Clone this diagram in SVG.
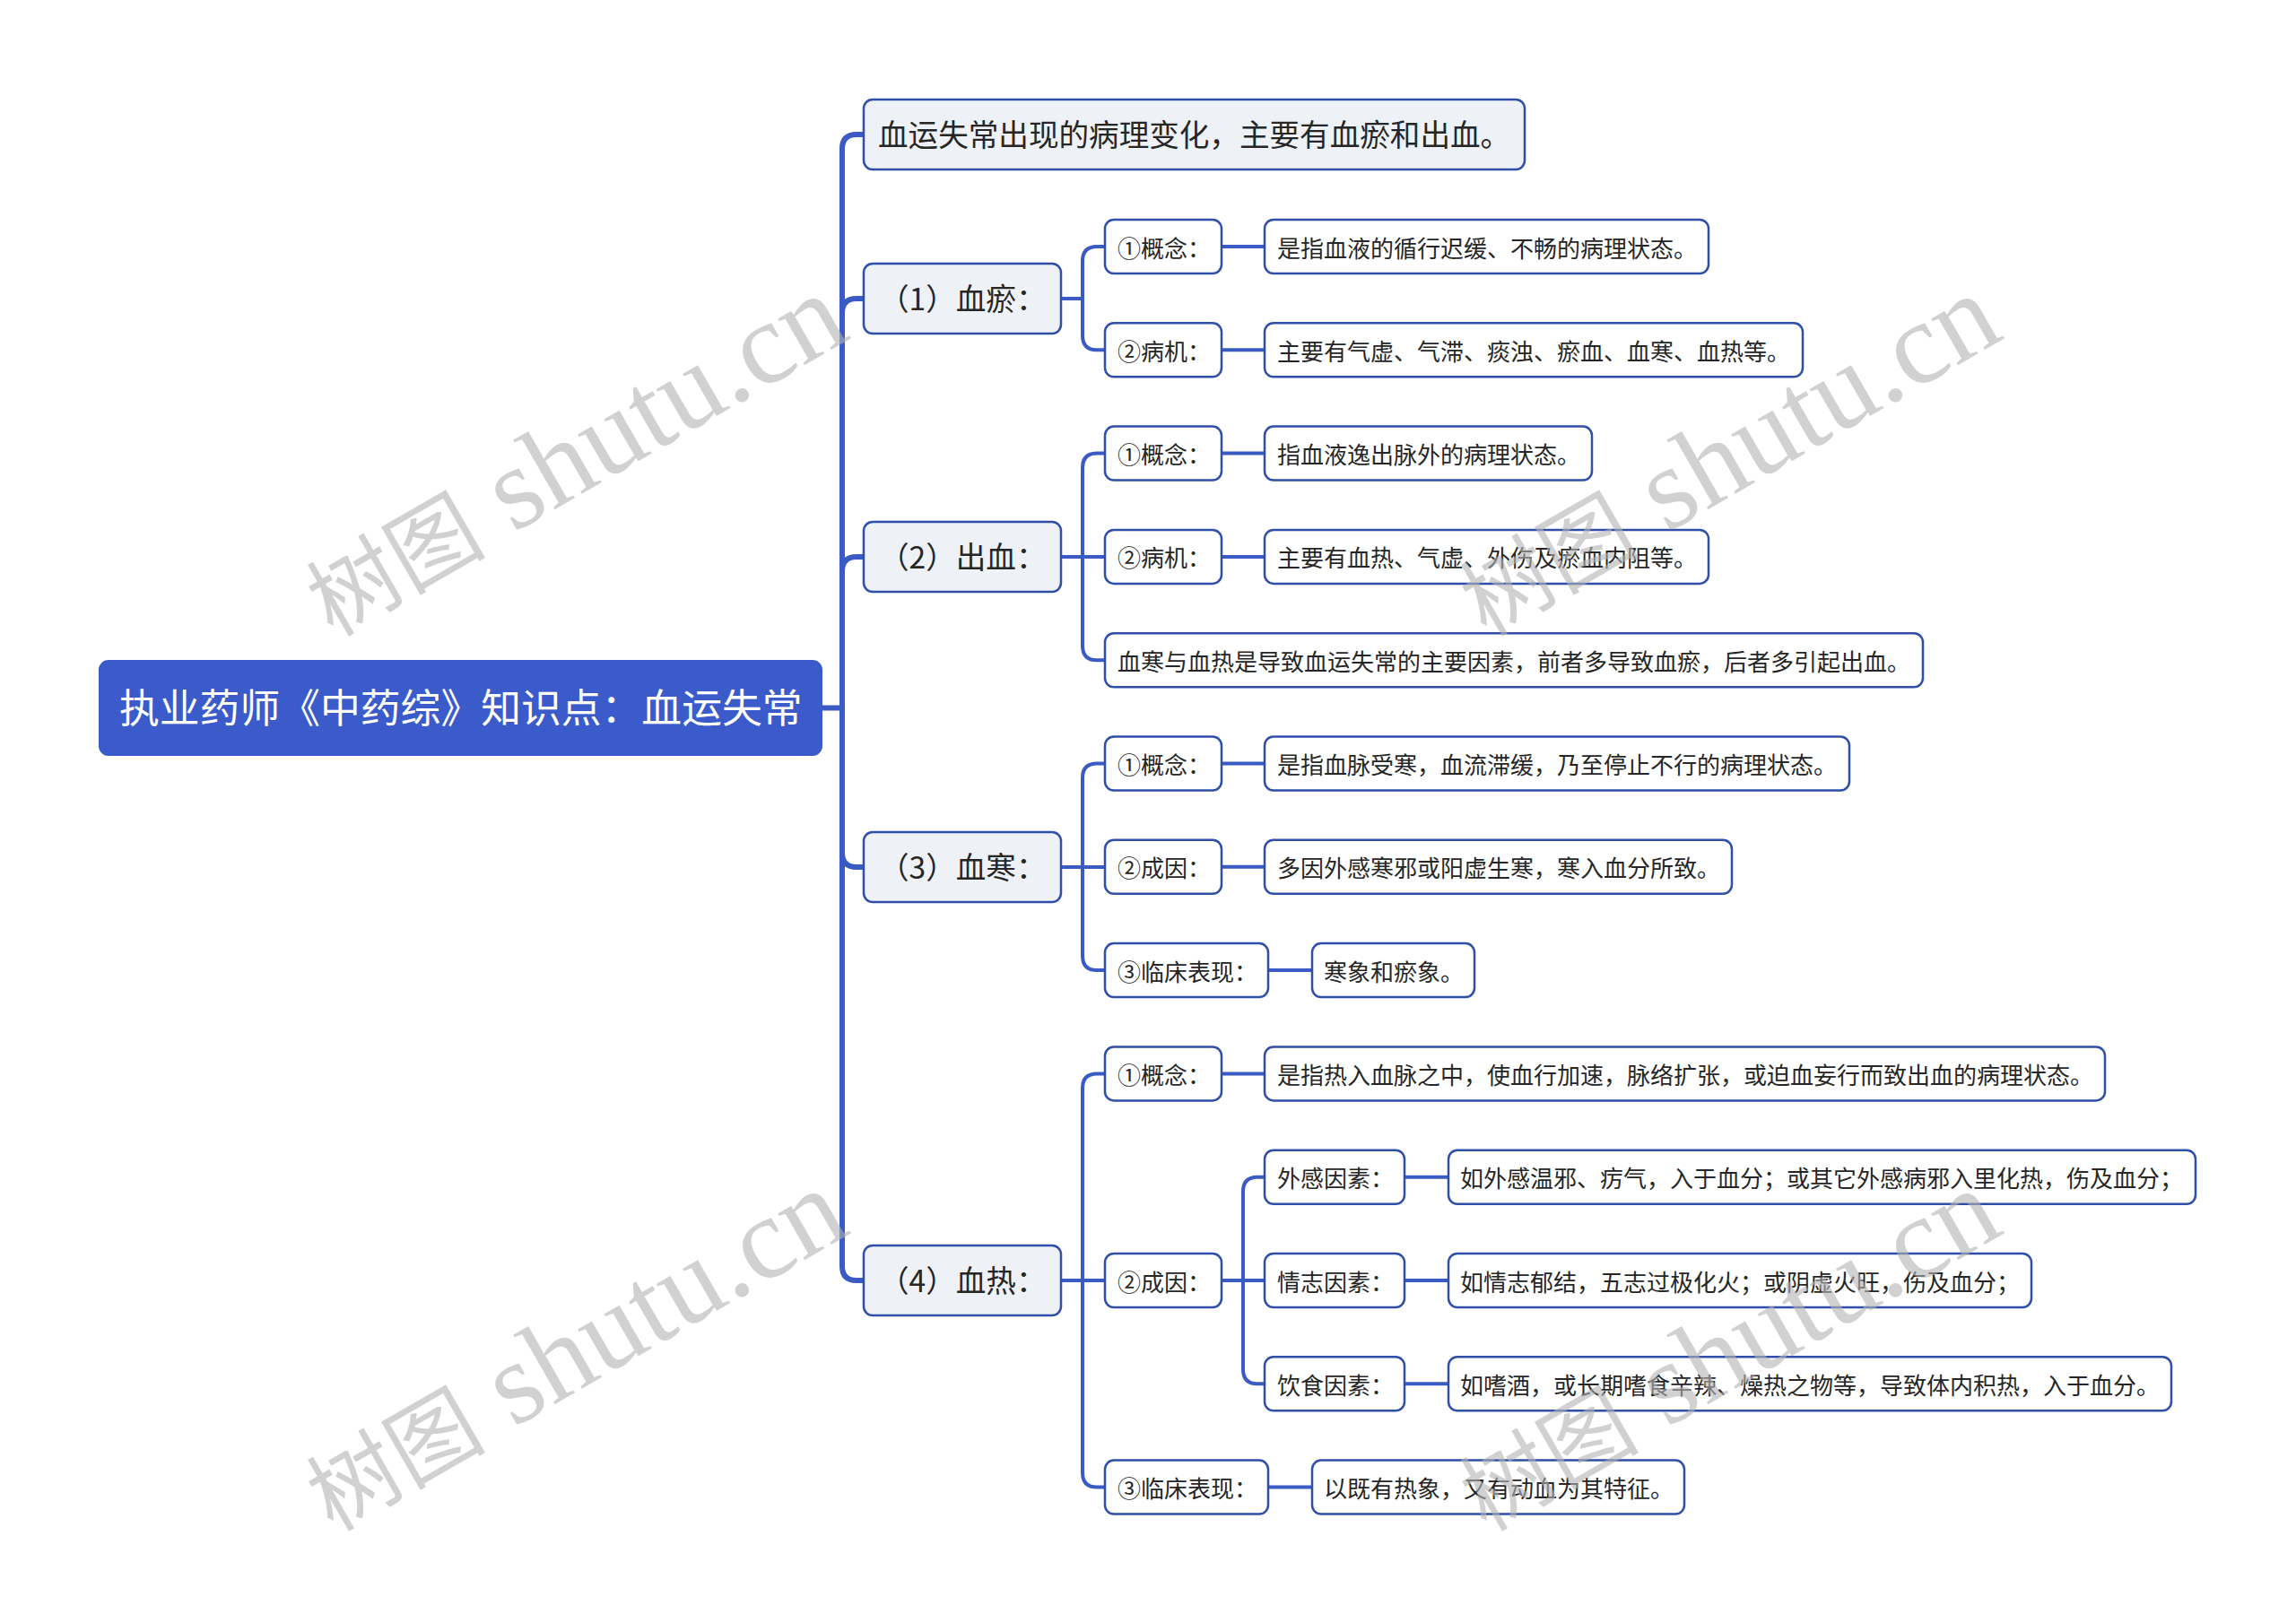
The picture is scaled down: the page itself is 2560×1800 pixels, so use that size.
<svg xmlns="http://www.w3.org/2000/svg" width="2560" height="1800" viewBox="0 0 2560 1800">
<style>
text{font-family:"Noto Sans CJK SC","Noto Sans",sans-serif;fill:#262626;white-space:pre}
.n{fill:#fff;stroke:#2f4fa8;stroke-width:2.5}
.l1{fill:#eef1f5;stroke:#2f4fa8;stroke-width:2.5}
.root{fill:#3b5bcb;stroke:#3b5bcb;stroke-width:2}
.t0{font-size:44.800px;fill:#fff}
.t1{font-size:33.600px}
.t2{font-size:26px}
.c1{fill:none;stroke:#3b5bc4;stroke-width:6}
.c2{fill:none;stroke:#3b5bc4;stroke-width:4}
.wm{font-family:"Liberation Serif","Noto Sans CJK SC",serif;font-size:130px;fill:#b4b4b4;opacity:.6}
.wc{font-family:"Noto Sans CJK SC",serif;font-size:100px;font-weight:400;fill:#b4b4b4}
</style>
<rect width="2560" height="1800" fill="#fff"/>
<g id="connectors">
<path class="c1" d="M916 789.500H939"/>
<path class="c1" d="M939 789.500V166Q939 150 955 150H963"/>
<path class="c1" d="M939 789.500V349Q939 333 955 333H963"/>
<path class="c1" d="M939 789.500V637Q939 621 955 621H963"/>
<path class="c1" d="M939 789.500V951Q939 967 955 967H963"/>
<path class="c1" d="M939 789.500V1412Q939 1428 955 1428H963"/>
<path class="c2" d="M1183 333H1207M1207 333V291Q1207 275 1223 275H1232M1207 333V374.300Q1207 390.300 1223 390.300H1232"/>
<path class="c2" d="M1183 621H1232M1207 621V521.600Q1207 505.600 1223 505.600H1232M1207 621V720.200Q1207 736.200 1223 736.200H1232"/>
<path class="c2" d="M1183 967H1232M1207 967V867.500Q1207 851.500 1223 851.500H1232M1207 967V1066.100Q1207 1082.100 1223 1082.100H1232"/>
<path class="c2" d="M1183 1428H1232M1207 1428V1213.400Q1207 1197.400 1223 1197.400H1232M1207 1428V1642.600Q1207 1658.600 1223 1658.600H1232"/>
<path class="c2" d="M1362 275H1410M1362 390.300H1410M1362 505.600H1410M1362 620.900H1410M1362 851.500H1410M1362 966.800H1410M1414 1082.100H1463M1362 1197.400H1410M1414 1658.600H1463"/>
<path class="c2" d="M1362 1428H1410M1386 1428V1328.700Q1386 1312.700 1402 1312.700H1410M1386 1428V1527.300Q1386 1543.300 1402 1543.300H1410"/>
<path class="c2" d="M1566 1312.700H1615M1566 1428H1615M1566 1543.300H1615"/>
</g>
<g id="root"><rect class="root" x="111" y="737" width="805" height="105" rx="10"/><text class="t0" x="133" y="806">执业药师《中药综》知识点：血运失常</text></g>
<g id="n1"><rect class="l1" x="963" y="111" width="737" height="78" rx="10"/><text class="t1" x="979" y="163">血运失常出现的病理变化，主要有血瘀和出血。</text></g>
<g id="n2"><rect class="l1" x="963" y="294" width="220" height="78" rx="10"/><text class="t1" x="980" y="346">（1）血瘀：</text></g>
<g id="n3"><rect class="l1" x="963" y="582" width="220" height="78" rx="10"/><text class="t1" x="980" y="634">（2）出血：</text></g>
<g id="n4"><rect class="l1" x="963" y="928" width="220" height="78" rx="10"/><text class="t1" x="980" y="980">（3）血寒：</text></g>
<g id="n5"><rect class="l1" x="963" y="1389" width="220" height="78" rx="10"/><text class="t1" x="980" y="1441">（4）血热：</text></g>
<g id="a1"><rect class="n" x="1232" y="245" width="130" height="60" rx="10"/><text class="t2" x="1246" y="286.500">①概念：</text></g>
<g id="a1l"><rect class="n" x="1410" y="245" width="495" height="60" rx="10"/><text class="t2" x="1424" y="286.500">是指血液的循行迟缓、不畅的病理状态。</text></g>
<g id="a2"><rect class="n" x="1232" y="360.300" width="130" height="60" rx="10"/><text class="t2" x="1246" y="401.800">②病机：</text></g>
<g id="a2l"><rect class="n" x="1410" y="360.300" width="600" height="60" rx="10"/><text class="t2" x="1424" y="401.800">主要有气虚、气滞、痰浊、瘀血、血寒、血热等。</text></g>
<g id="b1"><rect class="n" x="1232" y="475.600" width="130" height="60" rx="10"/><text class="t2" x="1246" y="517.100">①概念：</text></g>
<g id="b1l"><rect class="n" x="1410" y="475.600" width="365" height="60" rx="10"/><text class="t2" x="1424" y="517.100">指血液逸出脉外的病理状态。</text></g>
<g id="b2"><rect class="n" x="1232" y="590.900" width="130" height="60" rx="10"/><text class="t2" x="1246" y="632.400">②病机：</text></g>
<g id="b2l"><rect class="n" x="1410" y="590.900" width="495" height="60" rx="10"/><text class="t2" x="1424" y="632.400">主要有血热、气虚、外伤及瘀血内阻等。</text></g>
<g id="b3"><rect class="n" x="1232" y="706.200" width="912" height="60" rx="10"/><text class="t2" x="1246" y="747.700">血寒与血热是导致血运失常的主要因素，前者多导致血瘀，后者多引起出血。</text></g>
<g id="c1"><rect class="n" x="1232" y="821.500" width="130" height="60" rx="10"/><text class="t2" x="1246" y="863">①概念：</text></g>
<g id="c1l"><rect class="n" x="1410" y="821.500" width="652" height="60" rx="10"/><text class="t2" x="1424" y="863">是指血脉受寒，血流滞缓，乃至停止不行的病理状态。</text></g>
<g id="c2"><rect class="n" x="1232" y="936.800" width="130" height="60" rx="10"/><text class="t2" x="1246" y="978.300">②成因：</text></g>
<g id="c2l"><rect class="n" x="1410" y="936.800" width="521" height="60" rx="10"/><text class="t2" x="1424" y="978.300">多因外感寒邪或阳虚生寒，寒入血分所致。</text></g>
<g id="c3"><rect class="n" x="1232" y="1052.100" width="182" height="60" rx="10"/><text class="t2" x="1246" y="1093.600">③临床表现：</text></g>
<g id="c3l"><rect class="n" x="1463" y="1052.100" width="181" height="60" rx="10"/><text class="t2" x="1476" y="1093.600">寒象和瘀象。</text></g>
<g id="d1"><rect class="n" x="1232" y="1167.400" width="130" height="60" rx="10"/><text class="t2" x="1246" y="1208.900">①概念：</text></g>
<g id="d1l"><rect class="n" x="1410" y="1167.400" width="937" height="60" rx="10"/><text class="t2" x="1424" y="1208.900">是指热入血脉之中，使血行加速，脉络扩张，或迫血妄行而致出血的病理状态。</text></g>
<g id="d2"><rect class="n" x="1232" y="1398" width="130" height="60" rx="10"/><text class="t2" x="1246" y="1439.500">②成因：</text></g>
<g id="d21"><rect class="n" x="1410" y="1282.700" width="156" height="60" rx="10"/><text class="t2" x="1424" y="1324.200">外感因素：</text></g>
<g id="d21l"><rect class="n" x="1615" y="1282.700" width="833" height="60" rx="10"/><text class="t2" x="1628" y="1324.200">如外感温邪、疠气，入于血分；或其它外感病邪入里化热，伤及血分；</text></g>
<g id="d22"><rect class="n" x="1410" y="1398" width="156" height="60" rx="10"/><text class="t2" x="1424" y="1439.500">情志因素：</text></g>
<g id="d22l"><rect class="n" x="1615" y="1398" width="650" height="60" rx="10"/><text class="t2" x="1628" y="1439.500">如情志郁结，五志过极化火；或阴虚火旺，伤及血分；</text></g>
<g id="d23"><rect class="n" x="1410" y="1513.300" width="156" height="60" rx="10"/><text class="t2" x="1424" y="1554.800">饮食因素：</text></g>
<g id="d23l"><rect class="n" x="1615" y="1513.300" width="806" height="60" rx="10"/><text class="t2" x="1628" y="1554.800">如嗜酒，或长期嗜食辛辣、燥热之物等，导致体内积热，入于血分。</text></g>
<g id="d3"><rect class="n" x="1232" y="1628.600" width="182" height="60" rx="10"/><text class="t2" x="1246" y="1670.100">③临床表现：</text></g>
<g id="d3l"><rect class="n" x="1463" y="1628.600" width="415" height="60" rx="10"/><text class="t2" x="1476" y="1670.100">以既有热象，又有动血为其特征。</text></g>
<g id="watermarks">
<text class="wm" transform="translate(371 711) rotate(-30)"><tspan class="wc">树图</tspan> shutu.cn</text>
<text class="wm" transform="translate(1657 711) rotate(-30)"><tspan class="wc">树图</tspan> shutu.cn</text>
<text class="wm" transform="translate(371 1709) rotate(-30)"><tspan class="wc">树图</tspan> shutu.cn</text>
<text class="wm" transform="translate(1657 1709) rotate(-30)"><tspan class="wc">树图</tspan> shutu.cn</text>
</g>
</svg>
